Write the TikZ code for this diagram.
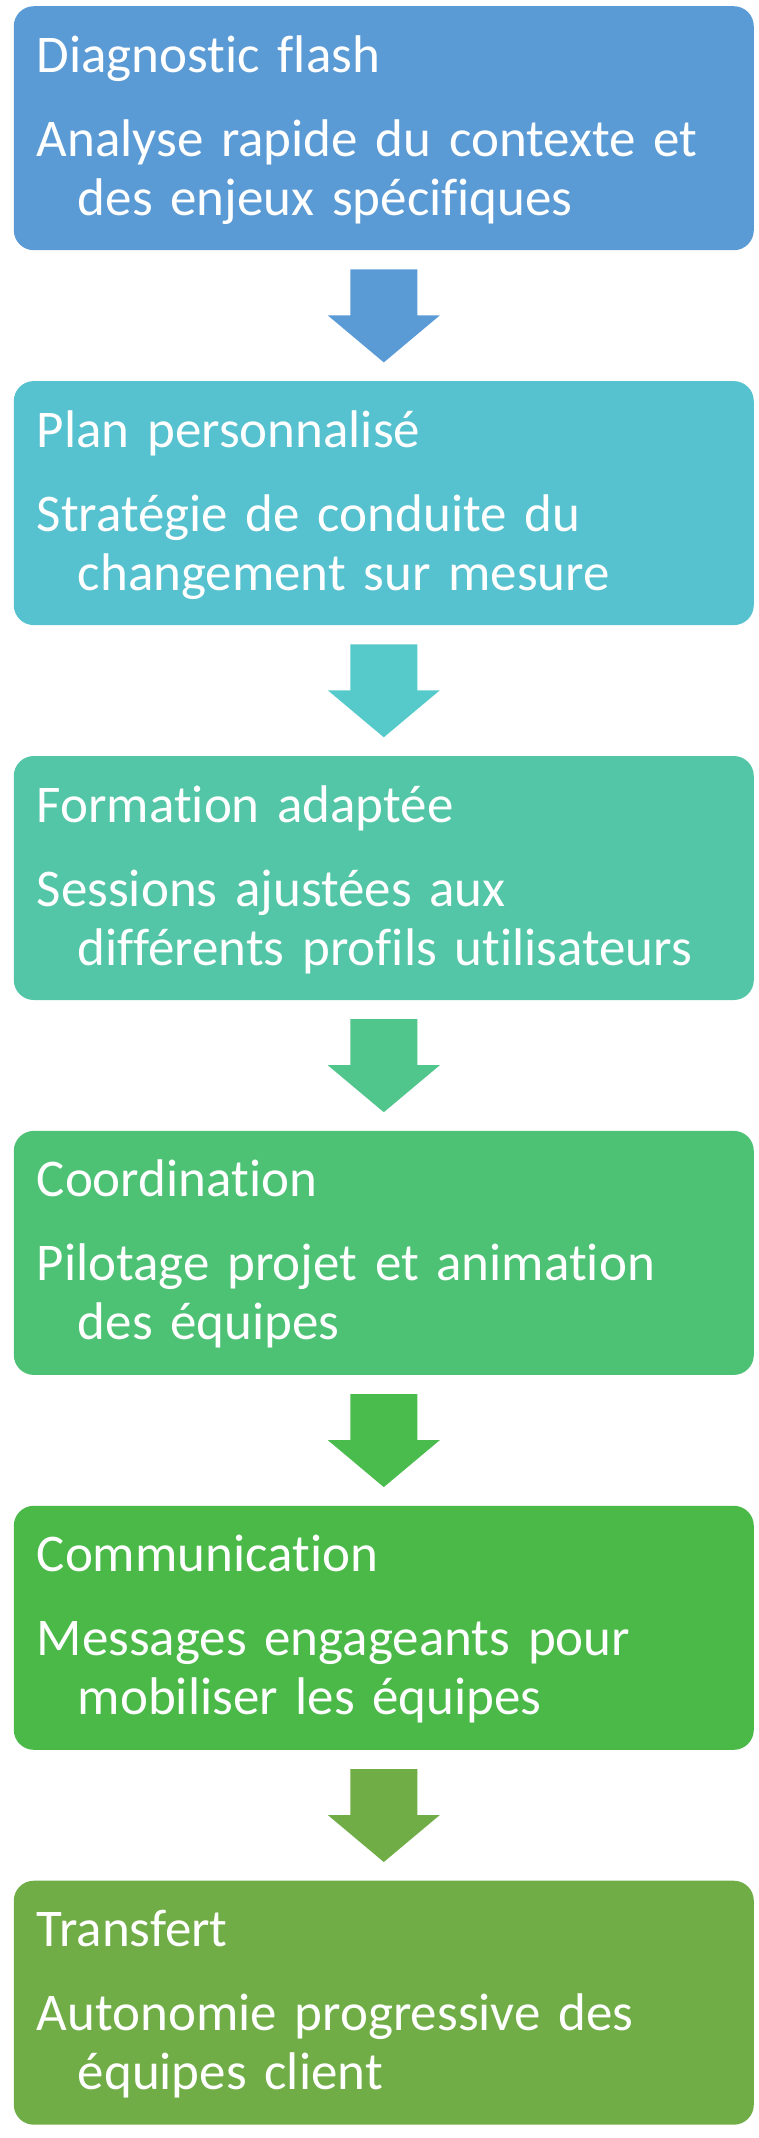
\documentclass[tikz,border=0pt]{standalone}
\usepackage{fontspec}
\setmainfont{Carlito}[Ligatures=NoCommon]
\usepackage{xcolor}
\usepackage{tikz}
\usetikzlibrary{positioning, calc}

\definecolor{boxA}{HTML}{5B9BD5}
\definecolor{boxB}{HTML}{56C1CF}
\definecolor{boxC}{HTML}{52C6A6}
\definecolor{boxD}{HTML}{4DC275}
\definecolor{boxE}{HTML}{4AB948}
\definecolor{boxF}{HTML}{70AD47}
\definecolor{arrA}{HTML}{5B9BD5}
\definecolor{arrB}{HTML}{56CACB}
\definecolor{arrC}{HTML}{50C58C}
\definecolor{arrD}{HTML}{4ABC4E}
\definecolor{arrE}{HTML}{70AD47}

\begin{document}
\begin{tikzpicture}[
        node distance=130.5pt,
        % blocs des étapes
        stage/.style={rectangle, rounded corners=20pt, minimum width=740pt, minimum height=244pt, text width=694pt, inner xsep=23pt, inner ysep=0pt, text height=66pt, text depth=178pt, align=left, text=white, font=\fontsize{53}{59}\selectfont}
    ]
    \useasboundingbox (0,0) rectangle (759pt,-2138pt);

    % --- 1. ÉTAPES ---
    \node[stage, fill=boxA, anchor=north west] (diag) at (13.6pt,-6pt) {Diagnostic flash\\[25pt]Analyse rapide du contexte et\\\hspace*{41pt}des enjeux spécifiques};

    \node[stage, fill=boxB, below=of diag] (plan) {Plan personnalisé\\[25pt]Stratégie de conduite du\\\hspace*{41pt}changement sur mesure};

    \node[stage, fill=boxC, below=of plan] (formation) {Formation adaptée\\[25pt]Sessions ajustées aux\\\hspace*{41pt}différents profils utilisateurs};

    \node[stage, fill=boxD, below=of formation] (coord) {Coordination\\[25pt]Pilotage projet et animation\\\hspace*{41pt}des équipes};

    \node[stage, fill=boxE, below=of coord] (comm) {Communication\\[25pt]Messages engageants pour\\\hspace*{41pt}mobiliser les équipes};

    \node[stage, fill=boxF, below=of comm] (transfert) {Transfert\\[25pt]Autonomie progressive des\\\hspace*{41pt}équipes client};

    % --- 2. FLÈCHES PLEINES ---
    \fill[arrA] ($(diag.south)+(-33.5pt,-19pt)$) -- ++(67pt,0) -- ++(0,-46pt) -- ++(22.5pt,0) -- ($(plan.north)+(0,18.5pt)$) -- ++(-56pt,47pt) -- ++(22.5pt,0) -- cycle;
    \fill[arrB] ($(plan.south)+(-33.5pt,-19pt)$) -- ++(67pt,0) -- ++(0,-46pt) -- ++(22.5pt,0) -- ($(formation.north)+(0,18.5pt)$) -- ++(-56pt,47pt) -- ++(22.5pt,0) -- cycle;
    \fill[arrC] ($(formation.south)+(-33.5pt,-19pt)$) -- ++(67pt,0) -- ++(0,-46pt) -- ++(22.5pt,0) -- ($(coord.north)+(0,18.5pt)$) -- ++(-56pt,47pt) -- ++(22.5pt,0) -- cycle;
    \fill[arrD] ($(coord.south)+(-33.5pt,-19pt)$) -- ++(67pt,0) -- ++(0,-46pt) -- ++(22.5pt,0) -- ($(comm.north)+(0,18.5pt)$) -- ++(-56pt,47pt) -- ++(22.5pt,0) -- cycle;
    \fill[arrE] ($(comm.south)+(-33.5pt,-19pt)$) -- ++(67pt,0) -- ++(0,-46pt) -- ++(22.5pt,0) -- ($(transfert.north)+(0,18.5pt)$) -- ++(-56pt,47pt) -- ++(22.5pt,0) -- cycle;

\end{tikzpicture}
\end{document}
